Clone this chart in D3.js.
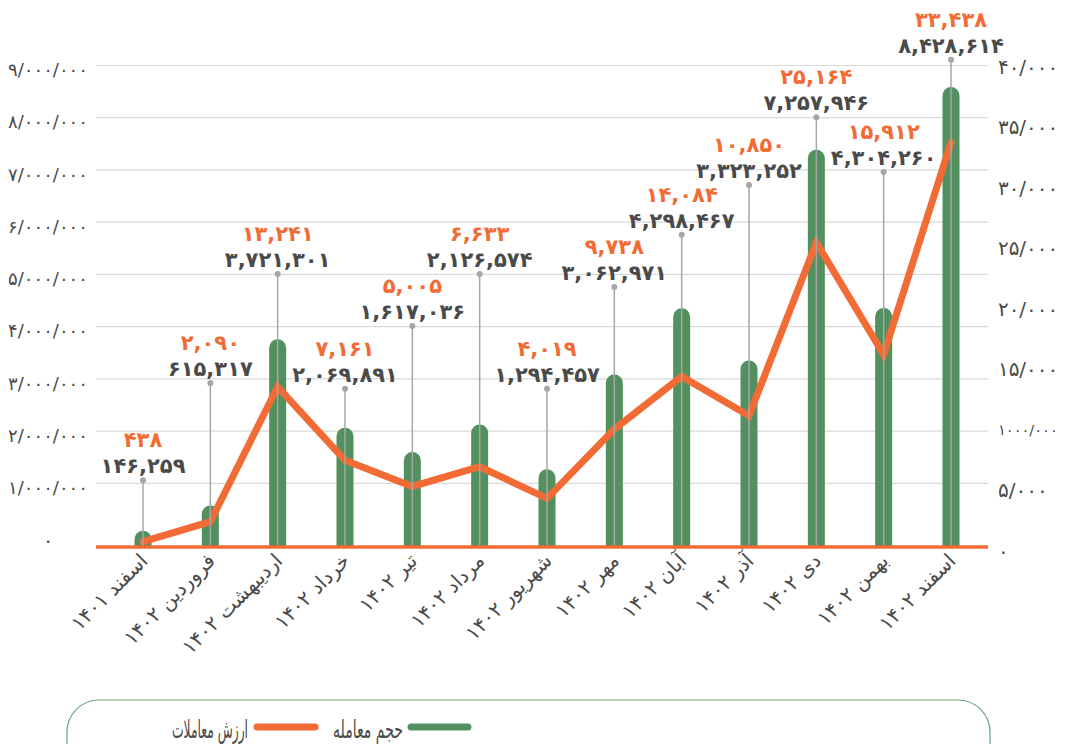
<!DOCTYPE html>
<html>
<head>
  <meta charset="utf-8">
  <title>حجم و ارزش معاملات</title>
  <script src="https://cdn.jsdelivr.net/npm/d3@7/dist/d3.min.js"></script>
  <style>
    body { margin: 0; background: #fff; }
    svg text { font-family: "DejaVu Sans", sans-serif; }
  </style>
</head>
<body>
  <svg width="1068" height="744" id="mainsvg"></svg>
  <script>
    // data
    const months = ['اسفند ۱۴۰۱', 'فروردین ۱۴۰۲', 'اردیبهشت ۱۴۰۲', 'خرداد ۱۴۰۲', 'تیر ۱۴۰۲', 'مرداد ۱۴۰۲',
      'شهریور ۱۴۰۲', 'مهر ۱۴۰۲', 'آبان ۱۴۰۲', 'آذر ۱۴۰۲', 'دی ۱۴۰۲', 'بهمن ۱۴۰۲', 'اسفند ۱۴۰۲'];
    const volume = [146259, 615317, 3721301, 2069891, 1617036, 2126574, 1294457, 3062971,
      4298467, 3323252, 7257946, 4304260, 8428614];
    const tradeValue = [438, 2090, 13241, 7161, 5005, 6633, 4019, 9738, 14084, 10850, 25164, 15912, 33438];
    const leftTicks = [0, 1e6, 2e6, 3e6, 4e6, 5e6, 6e6, 7e6, 8e6, 9e6];
    const leftTickLabels = ['۰', '۱/۰۰۰/۰۰۰', '۲/۰۰۰/۰۰۰', '۳/۰۰۰/۰۰۰', '۴/۰۰۰/۰۰۰',
      '۵/۰۰۰/۰۰۰', '۶/۰۰۰/۰۰۰', '۷/۰۰۰/۰۰۰', '۸/۰۰۰/۰۰۰', '۹/۰۰۰/۰۰۰'];
    const rightTicks = [0, 5000, 10000, 15000, 20000, 25000, 30000, 35000, 40000];
    const rightTickLabels = ['۰', '۵/۰۰۰', '۱۰۰۰/۰۰۰', '۱۵/۰۰۰', '۲۰/۰۰۰', '۲۵/۰۰۰', '۳۰/۰۰۰', '۳۵/۰۰۰', '۴۰/۰۰۰'];
    const seriesNames = ['حجم معامله', 'ارزش معاملات'];

    // layout: height of each callout (in left-axis units)
    const calloutLevel = [1.05e6, 2.91e6, 5.0e6, 2.8e6, 4.0e6, 5.0e6, 2.8e6, 4.75e6, 5.75e6, 6.7e6, 8.0e6, 6.95e6, 9.1e6];

    const green = '#52915f';
    const orange = '#f26b35';
    const textColor = '#4a4a4a';

    const svg = d3.select('svg');
    const plotLeft = 96, plotRight = 988, baseY = 547;
    const barWidth = 17;

    const toFa = s => String(s).replace(/\d/g, d => '۰۱۲۳۴۵۶۷۸۹'[d]);
    const fmt = d3.format(',');

    const xScale = d3.scalePoint().domain(months).range([143, 951]);
    const yAxisL = d3.scaleLinear().domain([0, 9e6]).range([535, 65]);
    const yBar = d3.scaleLinear().domain([0, 9e6]).range([baseY, 65]);
    const yRight = d3.scaleLinear().domain([0, 40000]).range([baseY, 63]);

    // shrink font of a text until it fits a max width
    function shrinkTo(sel, maxW) {
      sel.each(function () {
        const w = this.getComputedTextLength();
        if (w > maxW) {
          const fs = parseFloat(d3.select(this).attr('font-size'));
          d3.select(this).attr('font-size', (fs * maxW / w).toFixed(1) + 'px');
        }
      });
    }
    // squeeze a text horizontally to a max width
    function squeezeTo(sel, maxW) {
      sel.each(function () {
        if (this.getComputedTextLength() > maxW) {
          d3.select(this).attr('textLength', maxW).attr('lengthAdjust', 'spacingAndGlyphs');
        }
      });
    }

    // gridlines
    const grid = svg.append('g').attr('transform', `translate(${plotLeft},0)`)
      .call(d3.axisLeft(yAxisL).tickValues(leftTicks.slice(1)).tickSize(-(plotRight - plotLeft)).tickFormat(''));
    grid.select('.domain').remove();
    grid.selectAll('.tick line').attr('stroke', '#d9d9d9').attr('stroke-width', 1.2);

    // left axis labels
    const leftAxis = svg.append('g').attr('transform', 'translate(48,5)')
      .call(d3.axisLeft(yAxisL).tickValues(leftTicks).tickSize(0).tickPadding(0)
        .tickFormat((d, i) => leftTickLabels[i]));
    leftAxis.select('.domain').remove();
    leftAxis.selectAll('.tick text').attr('text-anchor', 'middle').attr('fill', textColor)
      .attr('font-size', '20px').style('font-family', '"DejaVu Sans", sans-serif')
      .call(shrinkTo, 80);

    // right axis labels
    const rightAxis = svg.append('g').attr('transform', 'translate(998,4)')
      .call(d3.axisRight(yRight).tickValues(rightTicks).tickSize(0).tickPadding(0)
        .tickFormat((d, i) => rightTickLabels[i]));
    rightAxis.select('.domain').remove();
    rightAxis.selectAll('.tick text').attr('text-anchor', 'start').attr('fill', textColor)
      .attr('font-size', '20px').style('font-family', '"DejaVu Sans", sans-serif')
      .call(shrinkTo, 60);

    // bars with rounded tops
    const r = barWidth / 2;
    svg.append('g').selectAll('path').data(volume).join('path')
      .attr('fill', green)
      .attr('d', (d, i) => {
        const cx = xScale(months[i]);
        const top = yBar(d);
        return `M${cx - r},${baseY} L${cx - r},${top} A${r},${r} 0 0 1 ${cx + r},${top} L${cx + r},${baseY} Z`;
      });

    // value line
    const line = d3.line().x((d, i) => xScale(months[i])).y(d => yRight(d));
    svg.append('path').datum(tradeValue)
      .attr('d', line).attr('fill', 'none').attr('stroke', orange)
      .attr('stroke-width', 7).attr('stroke-linejoin', 'miter').attr('stroke-linecap', 'round');

    // baseline
    svg.append('line').attr('x1', plotLeft).attr('x2', plotRight).attr('y1', baseY).attr('y2', baseY)
      .attr('stroke', orange).attr('stroke-width', 3.5);

    // callouts
    const callouts = svg.append('g').selectAll('g').data(months).join('g')
      .attr('transform', (d, i) => `translate(${xScale(d)},${yAxisL(calloutLevel[i])})`);
    callouts.append('line').attr('x1', 0).attr('x2', 0).attr('y1', 0)
      .attr('y2', (d, i) => baseY - 2 - yAxisL(calloutLevel[i]))
      .attr('stroke', '#a6a6a6').attr('stroke-width', 1.5);
    callouts.append('circle').attr('r', 3).attr('fill', '#a6a6a6');
    callouts.append('text').attr('y', -7).attr('text-anchor', 'middle')
      .attr('fill', textColor).attr('font-size', '21px').attr('font-weight', 'bold')
      .text((d, i) => toFa(fmt(volume[i])));
    callouts.append('text').attr('y', -33).attr('text-anchor', 'middle')
      .attr('fill', orange).attr('font-size', '21px').attr('font-weight', 'bold')
      .text((d, i) => toFa(fmt(tradeValue[i])));

    // x labels
    svg.append('g').selectAll('text').data(months).join('text')
      .attr('transform', d => `translate(${xScale(d) + 6},${baseY + 15}) rotate(-45)`)
      .attr('text-anchor', 'end').attr('fill', textColor).attr('font-size', '20px')
      .text(d => d);

    // legend
    const legend = svg.append('g');
    legend.append('rect').attr('x', 67).attr('y', 700).attr('width', 923).attr('height', 90)
      .attr('rx', 32).attr('fill', 'none').attr('stroke', '#6aa57a').attr('stroke-width', 1.2);
    const legendItems = [
      {name: seriesNames[0], color: green, x1: 411, x2: 468, tx: 403, w: 70},
      {name: seriesNames[1], color: orange, x1: 257, x2: 315, tx: 248, w: 76}
    ];
    legendItems.forEach(it => {
      legend.append('line').attr('x1', it.x1).attr('x2', it.x2).attr('y1', 727).attr('y2', 727)
        .attr('stroke', it.color).attr('stroke-width', 7).attr('stroke-linecap', 'round');
      legend.append('text').attr('x', it.tx).attr('y', 738).attr('text-anchor', 'end')
        .attr('fill', textColor).attr('font-size', '25px').text(it.name)
        .call(squeezeTo, it.w);
    });
  </script>
</body>
</html>
